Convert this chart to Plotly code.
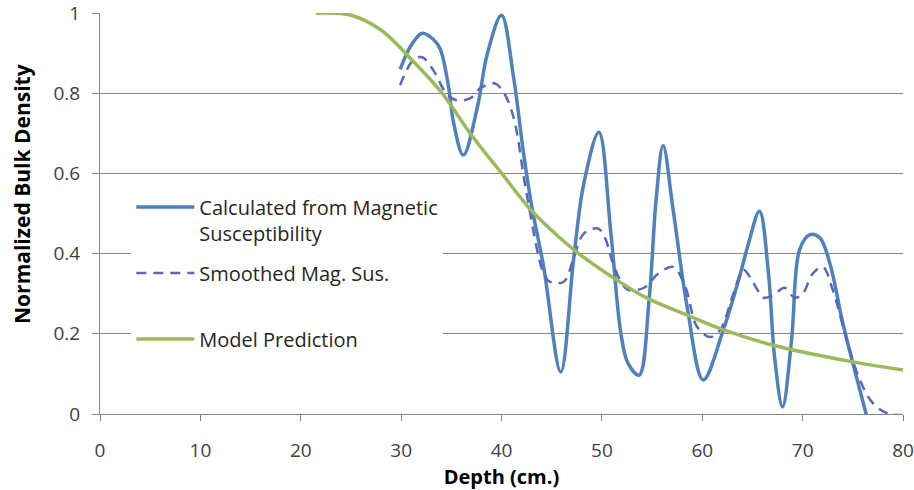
import plotly.graph_objects as go

# Calculated from Magnetic Susceptibility
calc_depth = [29.9, 31.0, 32.1, 33.2, 33.9, 34.7, 35.2, 36.2, 37.6, 38.6, 40.0, 41.2, 42.2, 43.0, 44.2, 45.9,
              47.2, 48.2, 49.7, 50.9, 51.9, 52.6, 53.7, 54.7, 55.4, 56.1, 57.1, 58.5, 60.1, 62.1,
              63.8, 64.6, 65.7, 66.6, 67.2, 68.0, 68.9, 69.7, 70.7, 71.7, 72.7, 74.0, 75.0, 76.4]
calc_vals = [0.86, 0.92, 0.95, 0.935, 0.91, 0.82, 0.73, 0.646, 0.766, 0.90, 0.995, 0.84, 0.65, 0.52, 0.367, 0.105,
             0.39, 0.575, 0.703, 0.45, 0.20, 0.127, 0.097, 0.284, 0.534, 0.67, 0.509, 0.267, 0.085, 0.21,
             0.35, 0.425, 0.506, 0.35, 0.143, 0.018, 0.185, 0.41, 0.447, 0.44, 0.377, 0.227, 0.127, -0.007]

# Smoothed Mag. Sus.
smooth_depth = [29.9, 31.2, 32.1, 33.2, 34.5, 35.5, 36.9, 37.9, 39.3, 40.2, 41.2, 42.5, 44.2, 44.8, 46.2,
                47.2, 48.2, 49.6, 50.3, 51.0, 51.9, 52.6, 54.2, 55.6, 57.1, 58.3, 59.5, 60.8, 61.8,
                63.1, 64.1, 64.8, 65.5, 66.1, 67.1, 68.2, 69.2, 70.0, 71.0, 72.0, 73.0, 74.4, 75.7,
                77.0, 78.4, 79.9]
smooth_vals = [0.82, 0.883, 0.89, 0.858, 0.80, 0.783, 0.788, 0.813, 0.825, 0.803, 0.74, 0.55, 0.35, 0.33, 0.33,
               0.39, 0.45, 0.463, 0.44, 0.384, 0.33, 0.31, 0.315, 0.35, 0.367, 0.318, 0.217, 0.192, 0.21,
               0.30, 0.36, 0.34, 0.31, 0.29, 0.297, 0.315, 0.29, 0.30, 0.35, 0.367, 0.31, 0.185, 0.085,
               0.027, 0.002, -0.003]

# Model Prediction
model_depth = [21.5, 25.0, 28.0, 31.0, 34.0, 37.0, 40.0, 43.0, 45.8, 47.5, 51.5, 54.5, 58.5, 62.0, 67.0, 75.0, 80.0]
model_vals = [1.0, 0.995, 0.958, 0.885, 0.803, 0.696, 0.601, 0.507, 0.44, 0.404, 0.334, 0.289, 0.247, 0.211, 0.172, 0.130, 0.110]

x_ticks = [0, 10, 20, 30, 40, 50, 60, 70, 80]
y_ticks = [0, 0.2, 0.4, 0.6, 0.8, 1]
y_tick_text = ["0", "0.2", "0.4", "0.6", "0.8", "1"]

FONT = "Open Sans"

fig = go.Figure()
fig.add_trace(go.Scatter(
    x=calc_depth, y=calc_vals, mode="lines", name="Calculated from Magnetic<br>Susceptibility",
    line=dict(color="#4F81BD", width=3.5, shape="spline", smoothing=1.0),
    legendgroup="a"))
fig.add_trace(go.Scatter(
    x=smooth_depth, y=smooth_vals, mode="lines", name="Smoothed Mag. Sus.<br>\u00a0",
    line=dict(color="#5868BC", width=2.5, dash="10px,7px", shape="spline", smoothing=1.0),
    legendgroup="b"))
fig.add_trace(go.Scatter(
    x=model_depth, y=model_vals, mode="lines", name="Model Prediction",
    line=dict(color="#9BBB59", width=3.5, shape="spline", smoothing=1.0),
    legendgroup="c"))

fig.update_layout(
    width=914, height=490,
    margin=dict(l=100, r=11, t=13, b=76, autoexpand=False),
    paper_bgcolor="white", plot_bgcolor="white",
    font=dict(family=FONT, size=19, color="#404040"),
    showlegend=True,
    legend=dict(x=0.039, y=0.565, xanchor="left", yanchor="top",
                bgcolor="white", borderwidth=0, valign="top",
                traceorder="grouped", tracegroupgap=11, itemwidth=58,
                font=dict(family=FONT, size=20, color="#262626")),
    xaxis=dict(range=[0, 80], tickvals=x_ticks, showgrid=False, showline=True,
               linecolor="#868686", linewidth=1, ticks="outside", ticklen=6,
               tickcolor="#868686", zeroline=False, automargin=False,
               ticklabelstandoff=13, ticklabeloverflow="allow",
               title=dict(text="<b>Depth (cm.)</b>", standoff=11,
                          font=dict(family=FONT, size=20, color="black"))),
    yaxis=dict(range=[0, 1.0005], tickvals=y_ticks, ticktext=y_tick_text, showgrid=True,
               gridcolor="#868686", gridwidth=1, showline=True, linecolor="#868686",
               linewidth=1, ticks="outside", ticklen=7, tickcolor="#868686",
               zeroline=False, ticklabelstandoff=8, automargin=False,
               ticklabeloverflow="allow"),
    annotations=[dict(text="<b>Normalized Bulk Density</b>", textangle=-90,
                      xref="paper", yref="paper", x=-0.097, y=0.549,
                      xanchor="center", yanchor="middle", showarrow=False,
                      font=dict(family=FONT, size=21, color="black"))],
)

fig.write_html("out.html", config={"displayModeBar": False},
               post_script="document.body.style.margin='0';document.body.style.padding='0';")
